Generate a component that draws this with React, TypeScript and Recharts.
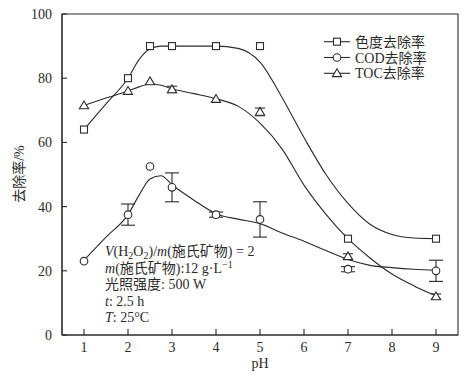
import React from 'react'
import { ComposedChart, Line, Scatter, XAxis, YAxis, ErrorBar, ReferenceArea, Customized } from 'recharts'

// measured points
const measuredPh = [1, 2, 2.5, 3, 4, 5, 7, 9]
const colorVals = [64, 80, 90, 90, 90, 90, 30, 30]
const codVals = [23, 37.5, 52.5, 46, 37.5, 36, 20.5, 20]
const codErr = [0, 3.3, 0, 4.5, 0.8, 5.5, 0.8, 3.3]
const tocVals = [71.5, 76, 79, 76.5, 73.5, 69.5, 24.5, 12]
const tocErr = [0, 0, 0, 1, 0, 1.2, 0.8, 0.8]

// fitted curves
const curvePh = [1, 1.5, 2, 2.25, 2.5, 2.75, 3, 3.5, 4, 4.5, 5, 5.5, 6, 6.5, 7, 7.5, 8, 8.5, 9]
const colorFit = [64, 72, 80, 85.8, 89.2, 90, 90, 90, 90, 89.3, 85, 74, 61.5, 50, 41, 34.5, 31.3, 30.2, 30]
const codFit = [23.3, 30.5, 37.5, 43.5, 48.6, 49.6, 46.8, 42, 37.8, 36.1, 34.7, 31.8, 29.2, 26.3, 23.5, 21.7, 21, 20.5, 20.2]
const tocFit = [71.5, 73.8, 76, 77.3, 78.2, 77.8, 76.7, 75.2, 73.6, 71.3, 66, 58, 46.7, 37.6, 30, 24, 19, 15.3, 12.2]

const phTicks = [1, 2, 3, 4, 5, 6, 7, 8, 9]
const yTicks = [0, 20, 40, 60, 80, 100]

const legendNames = ['色度去除率', 'COD去除率', 'TOC去除率']

const INK = '#2b2b2b'
const SERIF = '"Liberation Serif", "Times New Roman", "Noto Sans CJK SC", serif'

const toPoints = (ph: number[], vals: number[], errs?: number[]) =>
  ph.map((p, i) => ({ ph: p, v: vals[i], err: errs ? errs[i] : 0 }))

const colorPts = toPoints(measuredPh, colorVals)
const codPts = toPoints(measuredPh, codVals, codErr)
const tocPts = toPoints(measuredPh, tocVals, tocErr)

const colorCurve = toPoints(curvePh, colorFit)
const codCurve = toPoints(curvePh, codFit)
const tocCurve = toPoints(curvePh, tocFit)

const Square = ({ cx, cy }: any) => (
  <rect x={cx - 3.5} y={cy - 3.5} width={7} height={7} fill="#fff" stroke={INK} strokeWidth={1.1} />
)
const Circle = ({ cx, cy }: any) => (
  <circle cx={cx} cy={cy} r={3.8} fill="#fff" stroke={INK} strokeWidth={1.1} />
)
const Triangle = ({ cx, cy }: any) => (
  <polygon
    points={`${cx},${cy - 4.5} ${cx - 4.6},${cy + 3.3} ${cx + 4.6},${cy + 3.3}`}
    fill="#fff"
    stroke={INK}
    strokeWidth={1.1}
  />
)

const XTick = ({ x, y, payload }: any) => (
  <g>
    <line x1={x} y1={y} x2={x} y2={y - 6} stroke={INK} strokeWidth={1.1} />
    <text x={x} y={y + 17} textAnchor="middle" fontSize={14} fontFamily={SERIF} fill={INK}>
      {payload.value}
    </text>
  </g>
)

const YTick = ({ x, y, payload }: any) => (
  <g>
    <line x1={x} y1={y} x2={x + 5} y2={y} stroke={INK} strokeWidth={1.1} />
    <text x={x - 10} y={y} dy="0.35em" textAnchor="end" fontSize={14} fontFamily={SERIF} fill={INK}>
      {payload.value}
    </text>
  </g>
)

const markers = [Square, Circle, Triangle]

const Extras = () => {
  const lineY = (i: number) => 251 + i * 16.5
  return (
    <g fontFamily={SERIF} fontSize={14} fill={INK}>
      {legendNames.map((name, i) => {
        const y = 41.7 + i * 15.8
        const M = markers[i]
        return (
          <g key={name}>
            <line x1={324} x2={350} y1={y} y2={y} stroke={INK} strokeWidth={1.1} />
            <M cx={337} cy={y} />
            <text x={355} y={y} dy="0.36em">{name}</text>
          </g>
        )
      })}
      <text x={105} y={lineY(0)} dy="0.36em">
        <tspan fontStyle="italic">V</tspan>(H<tspan fontSize={10} dy={3}>2</tspan>
        <tspan dy={-3}>O</tspan><tspan fontSize={10} dy={3}>2</tspan>
        <tspan dy={-3}>)/</tspan><tspan fontStyle="italic">m</tspan>(施氏矿物) = 2
      </text>
      <text x={105} y={lineY(1)} dy="0.36em">
        <tspan fontStyle="italic">m</tspan>(施氏矿物):12 g·L<tspan fontSize={10} dy={-5}>−1</tspan>
      </text>
      <text x={105} y={lineY(2)} dy="0.36em">光照强度: 500 W</text>
      <text x={105} y={lineY(3)} dy="0.36em">
        <tspan fontStyle="italic">t</tspan>: 2.5 h
      </text>
      <text x={105} y={lineY(4)} dy="0.36em">
        <tspan fontStyle="italic">T</tspan>: 25°C
      </text>
      <text x={260} y={363} dy="0.36em" textAnchor="middle">pH</text>
      <text
        x={19}
        y={174}
        dy="0.36em"
        textAnchor="middle"
        transform="rotate(-90, 19, 174)"
      >
        去除率/%
      </text>
    </g>
  )
}

export default function App() {
  return (
    <div style={{ position: 'absolute', left: 0, top: 0, background: '#fff' }}>
      <ComposedChart width={473} height={378} margin={{ top: 14, right: 15, bottom: 0, left: 0 }}>
        <XAxis
          dataKey="ph"
          type="number"
          domain={[0.5, 9.5]}
          ticks={phTicks}
          height={43}
          tickSize={0}
          tickMargin={0}
          tick={<XTick />}
          stroke={INK}
          strokeWidth={1.1}
        />
        <YAxis
          type="number"
          domain={[0, 100]}
          ticks={yTicks}
          width={62}
          tickSize={0}
          tickMargin={0}
          tick={<YTick />}
          stroke={INK}
          strokeWidth={1.1}
        />
        <ReferenceArea x1={0.5} x2={9.5} y1={0} y2={100} fill="none" stroke={INK} strokeWidth={1.1} ifOverflow="visible" />
        <Line data={colorCurve} dataKey="v" type="monotone" stroke={INK} strokeWidth={1.1} dot={false} isAnimationActive={false} />
        <Line data={codCurve} dataKey="v" type="monotone" stroke={INK} strokeWidth={1.1} dot={false} isAnimationActive={false} />
        <Line data={tocCurve} dataKey="v" type="monotone" stroke={INK} strokeWidth={1.1} dot={false} isAnimationActive={false} />
        <Scatter data={colorPts} dataKey="v" shape={<Square />} isAnimationActive={false} />
        <Scatter data={codPts} dataKey="v" shape={<Circle />} isAnimationActive={false}>
          <ErrorBar dataKey="err" direction="y" width={7} stroke={INK} strokeWidth={1.1} />
        </Scatter>
        <Scatter data={tocPts} dataKey="v" shape={<Triangle />} isAnimationActive={false}>
          <ErrorBar dataKey="err" direction="y" width={5} stroke={INK} strokeWidth={1.1} />
        </Scatter>
        <Customized component={<Extras />} />
      </ComposedChart>
    </div>
  )
}
